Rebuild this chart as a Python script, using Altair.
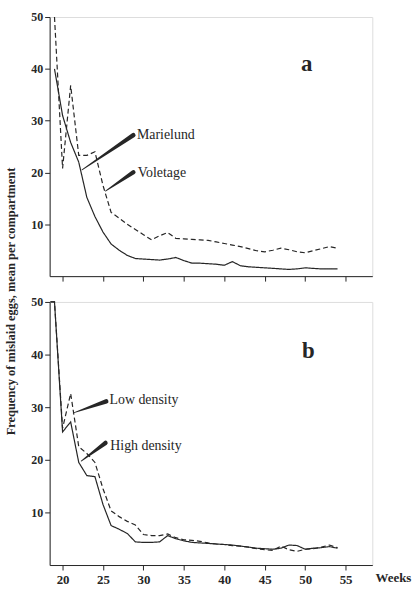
import altair as alt
import pandas as pd

# ---- data ----
weeks_a = list(range(19, 55))
marielund = [40, 31, 25.8, 22, 15.2, 11.5, 8.5, 6.2, 5.0, 4.0, 3.4, 3.3, 3.2, 3.1, 3.3, 3.6,
             3.0, 2.5, 2.5, 2.4, 2.3, 2.1, 2.8, 2.0, 1.8, 1.7, 1.6, 1.5, 1.4, 1.3, 1.4, 1.6,
             1.5, 1.4, 1.4, 1.4]
voletage = [50, 20.8, 36.8, 23.3, 23.3, 24, 17.5, 12.3, 11.2, 10, 9, 8, 7.0, 7.8, 8.4, 7.3,
            7.2, 7.1, 7.0, 6.9, 6.6, 6.3, 6.0, 5.7, 5.3, 4.9, 4.7, 5.0, 5.4, 5.1, 4.7, 4.5,
            4.9, 5.3, 5.7, 5.4]

weeks_b = [18.5] + list(range(19, 55))
high_density = [50, 50, 25.3, 27.2, 19.5, 17.0, 16.8, 11.5, 7.5, 6.8, 6.0, 4.4, 4.3, 4.3, 4.4,
                5.6, 5.0, 4.6, 4.3, 4.2, 4.1, 4.0, 3.9, 3.8, 3.6, 3.4, 3.2, 3.1, 3.0, 3.2,
                3.8, 3.7, 3.0, 3.2, 3.3, 3.5, 3.2]
low_density = [50, 50, 26, 32.6, 22.5, 21.2, 19.5, 14.5, 10.3, 9.2, 8.3, 7.6, 5.8, 5.6, 5.6,
               5.9, 5.2, 4.8, 4.7, 4.5, 4.2, 4.0, 3.9, 3.7, 3.6, 3.4, 3.1, 2.9, 2.8, 3.6,
               2.9, 2.6, 3.0, 3.1, 3.4, 3.8, 3.3]

x_ticks = [20, 25, 30, 35, 40, 45, 50, 55]
y_ticks = [10, 20, 30, 40, 50]

# annotation labels (text, week, value) and pointer wedges (start -> end)
labels_a = ["Marielund", "Voletage"]
label_weeks_a = [29.2, 29.3]
label_vals_a = [27.2, 19.8]
ptr_weeks_a = [[22.4, 28.75], [25.3, 28.75]]
ptr_vals_a = [[20.5, 27.2], [16.4, 20.05]]

labels_b = ["Low density", "High density"]
label_weeks_b = [25.8, 25.9]
label_vals_b = [31.3, 22.6]
ptr_weeks_b = [[21.3, 25.4], [22.3, 25.3]]
ptr_vals_b = [[28.9, 31.1], [19.75, 23.2]]

FONT = "Liberation Serif"
INK = "#262626"
XDOM = [18.4, 58.3]
W = 325


def line_df(weeks, s1, n1, s2, n2):
    return pd.DataFrame({
        "week": weeks + weeks,
        "value": s1 + s2,
        "series": [n1] * len(s1) + [n2] * len(s2),
    })


def ptr_df(names, pw, pv):
    rows = []
    for n, ws, vs in zip(names, pw, pv):
        rows.append({"id": n, "week": ws[0], "value": vs[0], "w": 0.7})
        rows.append({"id": n, "week": ws[1], "value": vs[1], "w": 4.5})
    return pd.DataFrame(rows)


def panel(df, solid_name, dashed_name, names, lw, lv, pw, pv, letter, letter_pos,
          height, bottom):
    x_axis = alt.Axis(values=x_ticks, labels=bottom, ticks=True, tickSize=5, grid=False,
                      title=None, domainColor=INK, tickColor=INK, labelFont=FONT,
                      labelFontSize=13, labelFontWeight="bold", labelColor=INK,
                      labelPadding=4)
    if bottom:
        y_axis = alt.Axis(values=y_ticks, grid=False, tickSize=5, domainColor=INK,
                          tickColor=INK, labelFont=FONT, labelFontSize=12,
                          labelFontWeight="bold", labelColor=INK, labelPadding=2,
                          title="Frequency of mislaid eggs, mean per compartment",
                          titleFont=FONT, titleFontSize=12.5, titleFontWeight="bold",
                          titleColor=INK, titleX=-39, titleY=-1, titleAngle=270,
                          titleBaseline="middle", titleAlign="center")
    else:
        y_axis = alt.Axis(values=y_ticks, grid=False, tickSize=5, domainColor=INK,
                          tickColor=INK, labelFont=FONT, labelFontSize=12,
                          labelFontWeight="bold", labelColor=INK, labelPadding=2,
                          title=None)
    x = alt.X("week:Q", scale=alt.Scale(domain=XDOM, nice=False, zero=False), axis=x_axis)
    y = alt.Y("value:Q", scale=alt.Scale(domain=[0, 50], nice=False), axis=y_axis)

    lines = alt.Chart(df).mark_line(color=INK, strokeWidth=1.2, clip=False).encode(
        x=x, y=y,
        detail="series:N",
        strokeDash=alt.StrokeDash("series:N", legend=None,
                                  scale=alt.Scale(domain=[solid_name, dashed_name],
                                                  range=[[1, 0], [5, 3]])),
    )
    ptrs = alt.Chart(ptr_df(names, pw, pv)).mark_trail(color=INK).encode(
        x="week:Q", y="value:Q", detail="id:N",
        size=alt.Size("w:Q", scale=None, legend=None),
    )
    txt = alt.Chart(pd.DataFrame({"t": names, "week": lw, "value": lv})).mark_text(
        font=FONT, fontSize=14, color=INK, align="left", baseline="middle"
    ).encode(x="week:Q", y="value:Q", text="t:N")
    let = alt.Chart(pd.DataFrame({"t": [letter], "week": [letter_pos[0]],
                                  "value": [letter_pos[1]]})).mark_text(
        font=FONT, fontSize=23, fontWeight="bold", color=INK, align="center",
        baseline="middle"
    ).encode(x="week:Q", y="value:Q", text="t:N")
    layers = [lines, ptrs, txt, let]
    if bottom:
        wk = alt.Chart(pd.DataFrame({"t": ["Weeks"], "week": [58.7], "value": [-2.4]})).mark_text(
            font=FONT, fontSize=13, fontWeight="bold", color=INK, align="left",
            baseline="middle"
        ).encode(x="week:Q", y="value:Q", text="t:N")
        layers.append(wk)
    return alt.layer(*layers).properties(width=W, height=height)


df_a = line_df(weeks_a, marielund, "Marielund", voletage, "Voletage")
df_b = line_df(weeks_b, high_density, "High density", low_density, "Low density")

top = panel(df_a, "Marielund", "Voletage", labels_a, label_weeks_a, label_vals_a,
            ptr_weeks_a, ptr_vals_a, "a", (50.2, 41), 261, False)
bot = panel(df_b, "High density", "Low density", labels_b, label_weeks_b, label_vals_b,
            ptr_weeks_b, ptr_vals_b, "b", (50.4, 40.6), 265, True)

chart = alt.vconcat(top, bot, spacing=26, bounds="flush").properties(
    padding={"left": 4, "top": 8, "right": 0, "bottom": 0}
).configure_view(stroke=None).configure(background="white")

chart.save("out.html", embed_options={"renderer": "svg", "actions": False})
